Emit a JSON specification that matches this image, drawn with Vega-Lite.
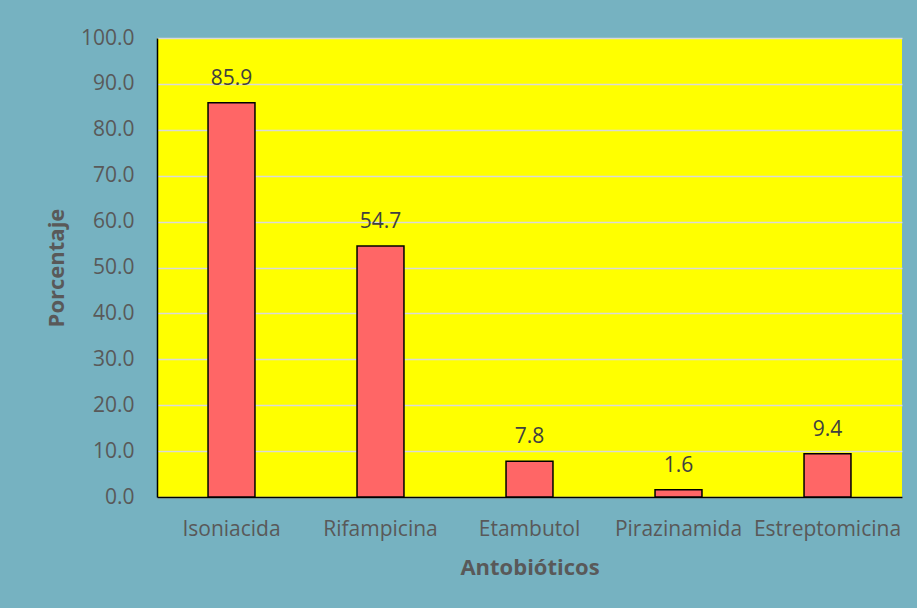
{
  "$schema": "https://vega.github.io/schema/vega-lite/v6.json",
  "width": 745,
  "height": 459,
  "autosize": {"type": "none"},
  "padding": {"left": 157, "top": 38, "right": 15, "bottom": 111},
  "background": "#76B2C1",
  "data": {"values": [
    {"antibiotico": "Isoniacida", "porcentaje": 85.9},
    {"antibiotico": "Rifampicina", "porcentaje": 54.7},
    {"antibiotico": "Etambutol", "porcentaje": 7.8},
    {"antibiotico": "Pirazinamida", "porcentaje": 1.6},
    {"antibiotico": "Estreptomicina", "porcentaje": 9.4}
  ]},
  "encoding": {
    "x": {
      "field": "antibiotico", "type": "nominal", "sort": null,
      "scale": {"paddingInner": 0.685, "paddingOuter": 0.3425},
      "axis": {
        "title": "Antobióticos", "labelAngle": 0, "ticks": false,
        "labelPadding": 21, "labelFontSize": 21, "labelColor": "#595959",
        "titleFontSize": 22, "titleFontWeight": "bold", "titleColor": "#595959",
        "titlePadding": 18, "domainColor": "#000000", "domainWidth": 1.5
      }
    },
    "y": {
      "field": "porcentaje", "type": "quantitative",
      "scale": {"domain": [0, 100], "nice": false},
      "axis": {
        "title": "Porcentaje", "values": [0,10,20,30,40,50,60,70,80,90,100],
        "format": ".1f", "ticks": false, "labelPadding": 23,
        "labelFontSize": 21, "labelColor": "#595959",
        "titleFontSize": 22, "titleFontWeight": "bold", "titleColor": "#595959",
        "titlePadding": 12, "domainColor": "#000000", "domainWidth": 1.5,
        "grid": true, "gridColor": "#D9D9D9", "gridWidth": 1.5
      }
    }
  },
  "layer": [
    {"mark": {"type": "bar", "fill": "#FF6666", "stroke": "#000000", "strokeWidth": 1.5}},
    {
      "mark": {"type": "text", "baseline": "alphabetic", "dy": -18, "fontSize": 21, "color": "#404040", "font": "Open Sans"},
      "encoding": {"text": {"field": "porcentaje", "type": "quantitative", "format": ".1f"}}
    }
  ],
  "config": {
    "font": "Open Sans",
    "view": {"fill": "#FFFF00", "stroke": null}
  }
}
